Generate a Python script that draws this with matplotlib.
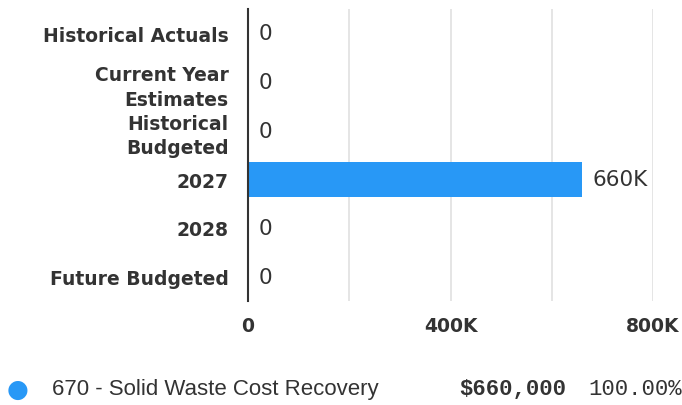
import matplotlib
matplotlib.use('Agg')
import matplotlib.pyplot as plt

categories = ['Historical Actuals', 'Current Year\nEstimates', 'Historical\nBudgeted',
              '2027', '2028', 'Future Budgeted']
values = [0, 0, 0, 660000, 0, 0]
value_labels = ['0', '0', '0', '660K', '0', '0']
xticks = [0, 400000, 800000]
xtick_labels = ['0', '400K', '800K']
legend_name = '670 - Solid Waste Cost Recovery'
legend_amount = '$660,000'
legend_pct = '100.00%'

blue = '#2898f6'
dark = '#333333'

fig = plt.figure(figsize=(6.82, 4.06), dpi=100)
ax = fig.add_axes([248 / 682, 1 - 302 / 406, 405 / 682, 292 / 406])

y = range(len(categories))
ax.barh(y, values, height=0.72, color=blue, zorder=3)
ax.set_ylim(len(categories) - 0.5, -0.5)
ax.set_xlim(0, 800000)

for i, (v, lab) in enumerate(zip(values, value_labels)):
    ax.text(v + 21000, i, lab, va='center', ha='left', fontsize=15.5,
            color=dark, fontfamily='DejaVu Sans')

ax.set_yticks(list(y))
ax.set_yticklabels(categories, fontsize=13.5, fontweight='bold', color=dark,
                   fontfamily='DejaVu Sans', linespacing=1.37)
ax.set_xticks(xticks)
ax.set_xticklabels(xtick_labels, fontsize=13.5, fontweight='bold', color=dark,
                   fontfamily='DejaVu Sans')
ax.set_xticks([200000, 600000], minor=True)
ax.tick_params(axis='both', which='both', length=0)
ax.tick_params(axis='x', pad=11)
ax.tick_params(axis='y', pad=14)
ax.grid(axis='x', which='both', color='#e0e0e0', linewidth=1.2, zorder=0)
for s in ['top', 'right', 'bottom']:
    ax.spines[s].set_visible(False)
ax.spines['left'].set_color(dark)
ax.spines['left'].set_linewidth(1.5)
ax.spines['left'].set_zorder(4)

# legend row
ly = 1 - 390 / 406
fig.text(18 / 682, ly, '\u25cf', color=blue, fontsize=18, ha='center', va='center')
fig.text(52 / 682, ly, legend_name, fontsize=16, color=dark,
         fontfamily='Liberation Sans', ha='left', va='center')
fig.text(566 / 682, ly, legend_amount, fontsize=16, color=dark,
         fontfamily='Liberation Mono', fontweight='bold', ha='right', va='center')
fig.text(682 / 682, ly, legend_pct, fontsize=16, color=dark,
         fontfamily='Liberation Mono', ha='right', va='center')

fig.savefig('out.png', dpi=100)
